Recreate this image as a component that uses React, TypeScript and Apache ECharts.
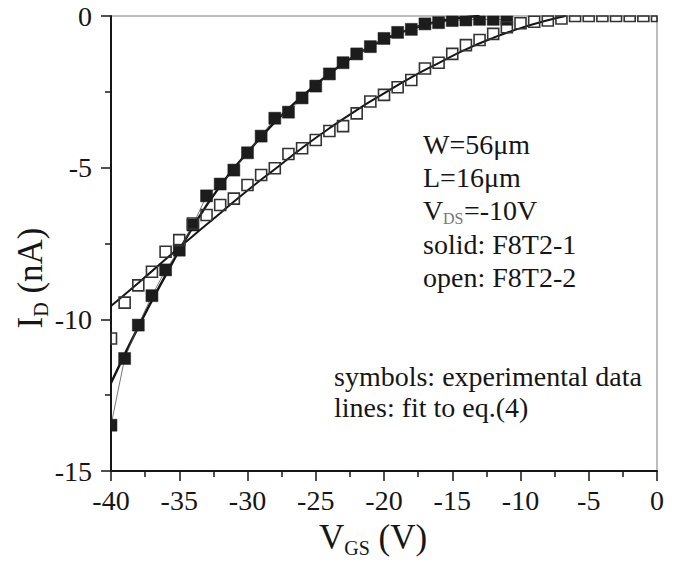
import React, { useEffect, useRef } from 'react';
import * as echarts from 'echarts';

// ---- data ----
const solidV = [-40, -39, -38, -37, -36, -35, -34, -33, -32, -31, -30, -29, -28, -27, -26, -25, -24, -23, -22, -21, -20, -19, -18, -17, -16, -15, -14, -13, -12, -11];
const solidI = [-13.49, -11.29, -10.19, -9.22, -8.37, -7.72, -6.89, -5.93, -5.54, -5.08, -4.51, -3.96, -3.37, -3.17, -2.7, -2.31, -1.91, -1.54, -1.25, -1.01, -0.74, -0.54, -0.44, -0.26, -0.22, -0.15, -0.13, -0.11, -0.11, -0.11];

const openV = [-40, -39, -38, -37, -36, -35, -34, -33, -32, -31, -30, -29, -28, -27, -26, -25, -24, -23, -22, -21, -20, -19, -18, -17, -16, -15, -14, -13, -12, -11, -10, -9, -8, -7, -6, -5, -4, -3, -2, -1, 0];
const openI = [-10.63, -9.45, -8.88, -8.43, -7.77, -7.39, -6.84, -6.56, -6.23, -6.02, -5.57, -5.24, -5.02, -4.55, -4.36, -4.09, -3.79, -3.63, -3.21, -2.82, -2.6, -2.35, -2.11, -1.73, -1.54, -1.25, -0.96, -0.79, -0.59, -0.37, -0.24, -0.19, -0.15, -0.08, 0, 0, 0, 0, 0, 0, 0];

const solidFitV = [-40, -38, -36, -34, -32, -30, -28, -26, -24, -22, -20, -18, -16, -14, -13];
const solidFitI = [-12.1, -10.25, -8.55, -6.95, -5.6, -4.5, -3.5, -2.65, -1.9, -1.27, -0.78, -0.42, -0.18, -0.04, 0];

const openFitV = [-40, -38, -36, -34, -32, -30, -28, -26, -24, -22, -20, -18, -16, -14, -12, -10, -8, -6.7];
const openFitI = [-9.56, -8.8, -8.02, -7.25, -6.5, -5.75, -5.05, -4.35, -3.7, -3.1, -2.55, -2.02, -1.55, -1.1, -0.72, -0.4, -0.14, 0];

const FONT = "'Liberation Serif', 'Times New Roman', serif";
const INK = '#161616';

const pairs = (xs: number[], ys: number[]) => xs.map((x, i) => [x, ys[i]]);

function squareSeries(data: number[][], size: number, style: any, z: number) {
  return {
    type: 'custom',
    z,
    data,
    encode: { x: 0, y: 1 },
    renderItem: (params: any, api: any) => {
      const p = api.coord([api.value(0), api.value(1)]);
      const cs = params.coordSys;
      const shape = echarts.graphic.clipRectByRect(
        { x: p[0] - size / 2, y: p[1] - size / 2, width: size, height: size },
        { x: cs.x, y: cs.y, width: cs.width, height: cs.height }
      );
      if (!shape) return null;
      return { type: 'rect', shape, style };
    },
  };
}

export default function App() {
  const ref = useRef<HTMLDivElement>(null);
  useEffect(() => {
    if (!ref.current) return;
    const chart = echarts.init(ref.current, undefined, { renderer: 'svg' });
    const axisCommon = {
      type: 'value',
      splitLine: { show: false },
      minorSplitLine: { show: false },
      axisLine: { show: true, onZero: false, lineStyle: { color: INK, width: 2 } },
      axisTick: { show: true, inside: false, length: 10, lineStyle: { color: INK, width: 1.5 } },
      minorTick: { show: true, splitNumber: 2, length: 6, lineStyle: { color: INK, width: 1.5 } },
    };
    const txt = (text: string, x: number, y: number, size = 28, fill = INK) => ({
      type: 'text', x, y,
      style: { text, font: `${size}px ${FONT}`, fill, verticalAlign: 'middle' },
    });
    chart.setOption({
      animation: false,
      backgroundColor: '#ffffff',
      grid: {
        left: 111, top: 16, width: 546, height: 455,
        show: true, borderColor: '#7a7a7a', borderWidth: 1, containLabel: false,
      },
      xAxis: {
        ...axisCommon,
        min: -40, max: 0, interval: 5,
        axisLabel: { fontSize: 28, fontFamily: FONT, color: INK, margin: 15 },
      },
      yAxis: {
        ...axisCommon,
        min: -15, max: 0, interval: 5,
        axisLabel: { fontSize: 28, fontFamily: FONT, color: INK, margin: 19 },
      },
      series: [
        {
          type: 'line', data: pairs(solidFitV, solidFitI), smooth: true, showSymbol: false,
          lineStyle: { color: '#151515', width: 2.4 }, z: 2, clip: true,
        },
        {
          type: 'line', data: pairs(openFitV, openFitI), smooth: true, showSymbol: false,
          lineStyle: { color: '#151515', width: 2 }, z: 2, clip: true,
        },
        {
          type: 'line', data: pairs(solidV, solidI), showSymbol: false,
          lineStyle: { color: '#555555', width: 0.8 }, z: 3, clip: true,
        },
        squareSeries(pairs(solidV, solidI), 12, { fill: '#1c1c1c', stroke: '#1c1c1c', lineWidth: 0.5 }, 4),
        squareSeries(pairs(openV, openI), 11, { fill: 'none', stroke: '#333333', lineWidth: 1.6 }, 5),
      ],
      graphic: [
        txt('W=56μm', 423, 144),
        txt('L=16μm', 423, 177),
        txt('V', 423, 210),
        txt('DS', 443, 218, 16, '#777777'),
        txt('=-10V', 464, 210),
        txt('solid: F8T2-1', 423, 244),
        txt('open: F8T2-2', 423, 277),
        txt('symbols: experimental data', 334, 376),
        txt('lines: fit to eq.(4)', 334, 407),
        {
          type: 'text', x: 373, y: 537,
          style: {
            text: '{a|V}{s|GS}{a| (V)}', align: 'center', verticalAlign: 'middle',
            rich: {
              a: { fontSize: 35, fontFamily: FONT, fill: INK, lineHeight: 42 },
              s: { fontSize: 20, fontFamily: FONT, fill: INK, lineHeight: 20, verticalAlign: 'bottom' },
            },
          },
        },
        {
          type: 'text', x: 30, y: 278, rotation: Math.PI / 2,
          style: {
            text: '{a|I}{s|D}{a| (nA)}', align: 'center', verticalAlign: 'middle',
            rich: {
              a: { fontSize: 35, fontFamily: FONT, fill: INK, lineHeight: 42 },
              s: { fontSize: 20, fontFamily: FONT, fill: INK, lineHeight: 20, verticalAlign: 'bottom' },
            },
          },
        },
      ],
    });
    return () => chart.dispose();
  }, []);
  return (
    <div
      ref={ref}
      style={{ position: 'fixed', left: 0, top: 0, width: 677, height: 569, background: '#fff' }}
    />
  );
}
